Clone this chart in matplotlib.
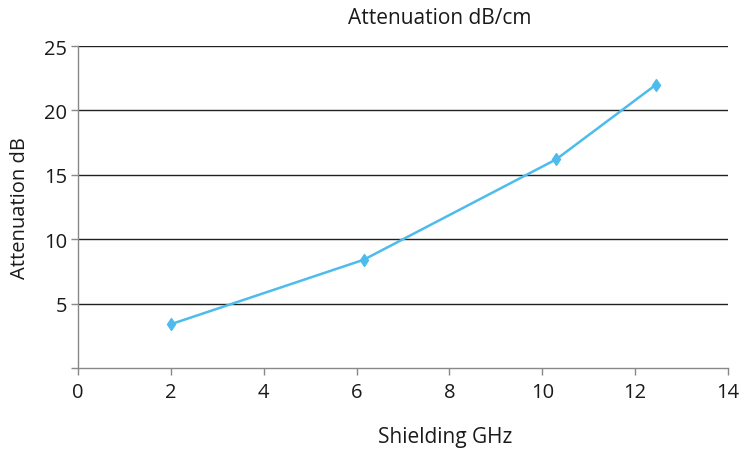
import matplotlib.pyplot as plt

plt.rcParams["font.family"] = ["Open Sans", "DejaVu Sans"]

# Data
freq_ghz = [2.0, 6.15, 10.3, 12.45]
atten_db = [3.4, 8.4, 16.2, 22.0]

x_ticks = [0, 2, 4, 6, 8, 10, 12, 14]
y_ticks = [5, 10, 15, 20, 25]

fig = plt.figure(figsize=(7.55, 4.52), dpi=100)
ax = fig.add_axes([0.1033, 0.1836, 0.8609, 0.7124])

for y in y_ticks:
    ax.axhline(y, color="#222222", linewidth=1.0, zorder=1)

ax.plot(freq_ghz, atten_db, color="#4dbcec", linewidth=1.8,
        marker="d", markersize=6, zorder=3)

ax.set_xlim(0, 14)
ax.set_ylim(0, 25)
ax.set_xticks(x_ticks)
ax.set_yticks([0] + y_ticks)
ax.set_yticklabels([""] + [str(v) for v in y_ticks])

for side in ("top", "right"):
    ax.spines[side].set_visible(False)
for side in ("left", "bottom"):
    ax.spines[side].set_color("#888888")
    ax.spines[side].set_linewidth(1.0)

ax.tick_params(axis="both", colors="#888888", length=5, width=1.0,
               labelsize=14.5, labelcolor="#1a1a1a")
ax.tick_params(axis="x", pad=5)
ax.tick_params(axis="y", pad=3)

fig.text(0.583, 0.958, "Attenuation dB/cm", ha="center", va="center",
         fontsize=15, color="#1a1a1a")
fig.text(0.589, 0.031, "Shielding GHz", ha="center", va="center",
         fontsize=15, color="#1a1a1a")
fig.text(0.026, 0.54, "Attenuation dB", ha="center", va="center",
         rotation=90, fontsize=14.5, color="#1a1a1a")

fig.savefig("out.png", dpi=100)
plt.close(fig)
